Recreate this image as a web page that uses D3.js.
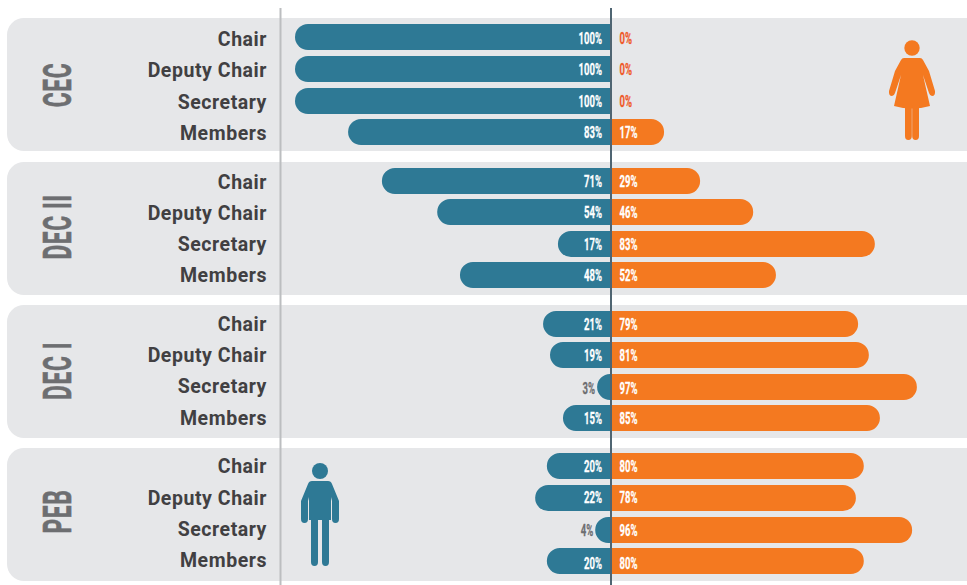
<!DOCTYPE html>
<html><head><meta charset="utf-8">
<script src="https://cdnjs.cloudflare.com/ajax/libs/d3/7.8.5/d3.min.js"></script>
<style>html,body{margin:0;padding:0;background:#fff}svg{display:block}</style>
</head><body><svg id="c" width="967" height="585"></svg>
<script>
const groups = ["CEC","DEC II","DEC I","PEB"];
const roles = ["Chair","Deputy Chair","Secretary","Members"];
const maleLabels = [[100,100,100,83],[71,54,17,48],[21,19,3,15],[20,22,4,20]];
const femaleLabels = [[0,0,0,17],[29,46,83,52],[79,81,97,85],[80,78,96,80]];
// bar lengths as drawn in the picture (they differ slightly from the printed labels)
const maleBars = [[100,100,100,83.2],[72.5,55,16.8,47.8],[21.5,19.3,4.4,15.2],[20.3,24,5,20.3]];
const femaleBars = [[0,0,0,16.8],[28.2,45,83.5,52.2],[78.2,81.6,96.8,85.1],[80,77.5,95.3,80]];

const svg = d3.select("#c");
const BLUE="#2e7995", ORANGE="#f47920", PANEL="#e6e7e9";
const x = d3.scaleLinear().domain([0,100]).range([0,316]);
const axisX = 611;
const panelTops=[18,162,305,448], panelH=133;
const rowTops=[[24,56,88,119],[168,199,231,262],[311,342,374,405],[453,485,517,548]];
const labelBase=[[46,77,109,140],[189,220,251,282],[331,362,393,425],[473,505,536,567]];
const valueBase=[[44,74.5,107,138],[187,218,249.5,281],[330,361,394,424],[472,503,536,569]];
const groupMid=[85,227,371,511.5];
const barH=26, R=13;

function halfPill(dir,len){
  const r=Math.min(R,len);
  if(dir<0) return `M0,0H${-(len-r)}A${r},${r} 0 0 0 ${-len},${r}V${barH-r}A${r},${r} 0 0 0 ${-(len-r)},${barH}H0Z`;
  return `M0,0H${len-r}A${r},${r} 0 0 1 ${len},${r}V${barH-r}A${r},${r} 0 0 1 ${len-r},${barH}H0Z`;
}
function valueText(sel,xp,yp,anchor,fill,txt){
  sel.append("text").attr("transform",`translate(${xp},${yp}) scale(0.56,1)`)
    .attr("text-anchor",anchor).attr("font-family","Roboto, sans-serif").attr("font-weight",700)
    .attr("font-size",17).attr("fill",fill).attr("stroke",fill).attr("stroke-width",0.3).text(txt);
}

groups.forEach((g,gi)=>{
  svg.append("rect").attr("x",7).attr("y",panelTops[gi]).attr("width",975).attr("height",panelH)
    .attr("rx",17).attr("fill",PANEL);
  svg.append("text").attr("transform",`translate(71,${groupMid[gi]}) rotate(-90) scale(0.6,1)`)
    .attr("text-anchor","middle").attr("font-family","Roboto, sans-serif").attr("font-weight",700)
    .attr("font-size",38).attr("fill","#6d6e71").attr("stroke","#6d6e71").attr("stroke-width",0.6)
    .attr("letter-spacing",1).text(g);
});

groups.forEach((g,gi)=>{
  roles.forEach((role,ri)=>{
    const top=rowTops[gi][ri];
    svg.append("text").attr("x",267).attr("y",labelBase[gi][ri]).attr("text-anchor","end")
      .attr("font-family","Roboto, sans-serif").attr("font-weight",700).attr("font-size",19.5)
      .attr("letter-spacing",0.55).attr("fill","#414042").text(role);
    const mb=maleBars[gi][ri], fb=femaleBars[gi][ri], m=maleLabels[gi][ri], f=femaleLabels[gi][ri];
    const row=svg.append("g").attr("transform",`translate(${axisX},${top})`);
    if(mb>0) row.append("path").attr("d",halfPill(-1,x(mb))).attr("fill",BLUE);
    if(fb>0) row.append("path").attr("d",halfPill(1,x(fb))).attr("fill",ORANGE);
    const small=m<=5;
    valueText(svg, small? axisX-x(mb)-2 : axisX-9, valueBase[gi][ri], "end", small?"#6d6e71":"#fff", m+"%");
    valueText(svg, axisX+8.5, valueBase[gi][ri], "start", f===0?"#ef5a2a":"#fff", f+"%");
  });
});

svg.append("line").attr("x1",280.5).attr("x2",280.5).attr("y1",8).attr("y2",585).attr("stroke","#bcbec0").attr("stroke-width",2);
svg.append("line").attr("x1",axisX).attr("x2",axisX).attr("y1",8).attr("y2",585).attr("stroke","#4f6572").attr("stroke-width",2);

// woman icon
const w=svg.append("g").attr("fill",ORANGE);
w.append("circle").attr("cx",912).attr("cy",48).attr("r",7.7);
w.append("path").attr("d","M904,58H920Q922,58 923,60L929,71L935,91Q935.5,96 932,96Q930,96 929,93L923,75L930,106Q912,111 894,106L901,75L895,93Q894,96 892,96Q888.5,96 889,91L895,71L901,60Q902,58 904,58Z");
w.append("path").attr("d","M905,105H911.8V136Q911.8,140 908.4,140Q905,140 905,136Z");
w.append("path").attr("d","M912.2,105H919V136Q919,140 915.6,140Q912.2,140 912.2,136Z");

// man icon
const mn=svg.append("g").attr("fill",BLUE);
mn.append("circle").attr("cx",320).attr("cy",471).attr("r",8);
mn.append("path").attr("d","M312,481H328Q331,481 332,484L339,501V519Q339,523 335.5,523Q332,523 332,519V501L331,497V520H329V562Q329,566 325.5,566Q322,566 322,562V520H318V562Q318,566 314.5,566Q311,566 311,562V520H309V497L308,501V519Q308,523 304.5,523Q301,523 301,519V501L308,484Q309,481 312,481Z");
</script></body></html>
